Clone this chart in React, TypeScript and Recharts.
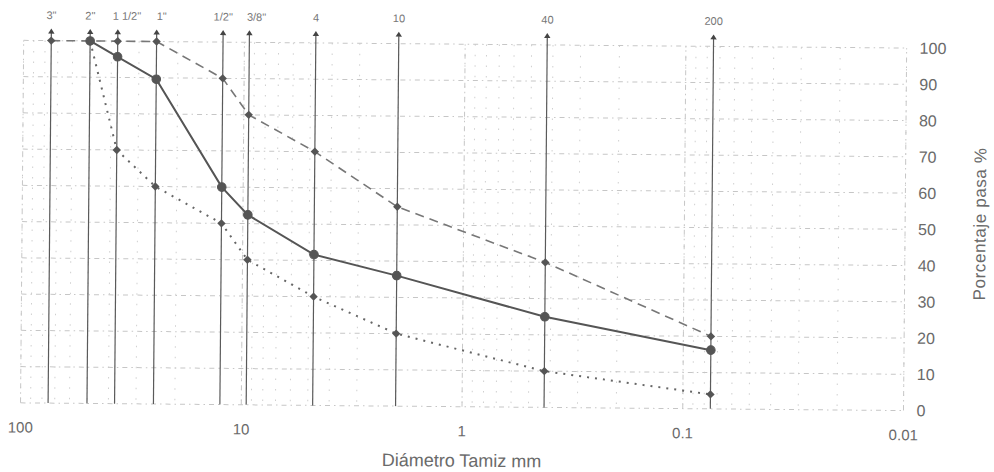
import React from 'react';
import { ComposedChart, Line, XAxis, YAxis, CartesianGrid, ReferenceLine } from 'recharts';

// ---- data ----
const sieveLabels = ['3"', '2"', '1 1/2"', '1"', '1/2"', '3/8"', '4', '10', '40', '200'];
const sieveSizesMm = [75, 50, 37.5, 25, 12.5, 9.5, 4.75, 2.0, 0.425, 0.075];
const muestra: (number | null)[] = [null, 100, 95.7, 89.6, 60, 52.4, 41.6, 36, 25, 16.2];
const limiteSuperior: (number | null)[] = [100, 100, 100, 100, 90, 80, 70, 55, 40, 20];
const limiteInferior: (number | null)[] = [null, 100, 70, 60, 50, 40, 30, 20, 10, 4];

const xDecadeTicks = [100, 10, 1, 0.1, 0.01];
const xDecadeLabels = ['100', '10', '1', '0.1', '0.01'];
const xGridTicks = [
  100, 90, 80, 70, 60, 50, 40, 30, 20,
  10, 9, 8, 7, 6, 5, 4, 3, 2,
  1, 0.9, 0.8, 0.7, 0.6, 0.5, 0.4, 0.3, 0.2,
  0.1, 0.09, 0.08, 0.07, 0.06, 0.05, 0.04, 0.03, 0.02,
  0.01,
];
const yTicks = [0, 10, 20, 30, 40, 50, 60, 70, 80, 90, 100];

// ---- styles ----
const W = 994;
const H = 472;
const FONT = '"Liberation Sans", Arial, sans-serif';
const TEXT = '#6a6a6a';
const INK = '#555';
const LABEL_DX: Record<string, number> = { '1 1/2"': 9, '1"': 5, '3/8"': 7 };

const toSeries = (vals: (number | null)[]) =>
  sieveSizesMm
    .map((x, i) => ({ x, y: vals[i] }))
    .filter((d) => d.y !== null && d.y !== undefined);

const serieMuestra = toSeries(muestra);
const serieSup = toSeries(limiteSuperior);
const serieInf = toSeries(limiteInferior);

const Diamond = (props: any) => {
  const { cx, cy, index } = props;
  if (cx == null || cy == null) return <g key={`d-${index}`} />;
  const s = 4.2;
  return (
    <path
      key={`d-${index}`}
      d={`M${cx},${cy - s}L${cx + s},${cy}L${cx},${cy + s}L${cx - s},${cy}Z`}
      fill={INK}
      stroke="none"
    />
  );
};

const sieveShape = (label: string) => (props: any) => {
  const { x1, y1, x2, y2 } = props;
  const x = (x1 + x2) / 2;
  const bottom = Math.max(y1, y2);
  const top = Math.min(y1, y2);
  const base = top - 7.5;
  const tip = top - 12;
  const dx = LABEL_DX[label] || 0;
  return (
    <g>
      <line x1={x} y1={bottom} x2={x} y2={base} stroke="#5a5a5a" strokeWidth={1.2} />
      <path d={`M${x},${tip}L${x + 3.2},${base + 0.5}L${x - 3.2},${base + 0.5}Z`} fill="#444" />
      <text
        x={x + dx}
        y={top - 21.5}
        textAnchor="middle"
        fontSize={11}
        fontFamily={FONT}
        fill="#777"
      >
        {label}
      </text>
    </g>
  );
};

const YTitle = (props: any) => {
  const vb = props && props.viewBox ? props.viewBox : { x: 905, y: 44.5, width: 89, height: 362.5 };
  const cx = vb.x + vb.width - 14;
  const cy = vb.y + vb.height / 2 - 6;
  return (
    <text
      x={cx}
      y={cy}
      transform={`rotate(-90 ${cx} ${cy})`}
      textAnchor="middle"
      dominantBaseline="central"
      fontSize={17}
      fontFamily={FONT}
      fill={TEXT}
      letterSpacing={0.6}
    >
      Porcentaje pasa %
    </text>
  );
};

export default function App() {
  return (
    <div style={{ position: 'absolute', left: 0, top: 0, width: W, height: H, overflow: 'hidden', background: '#fff' }}>
      <div style={{ width: W, height: H, transform: 'rotate(0.5deg)', transformOrigin: '50% 50%' }}>
        <ComposedChart width={W} height={H} margin={{ top: 44.5, right: 0, bottom: 5, left: 22 }}>
          <CartesianGrid
            horizontal={false}
            vertical={true}
            stroke="#cfcfcf"
            strokeDasharray="1.5 9"
          />
          <CartesianGrid
            horizontal={true}
            vertical={false}
            stroke="#c6c6c6"
            strokeDasharray="5 4 1.5 4"
          />
          <XAxis
            dataKey="x"
            type="number"
            scale="log"
            domain={[0.01, 100]}
            allowDataOverflow
            reversed
            ticks={xGridTicks}
            interval={0}
            height={60}
            axisLine={false}
            tickLine={false}
            tickSize={0}
            tickMargin={19}
            tick={{ fill: TEXT, fontSize: 15, fontFamily: FONT }}
            tickFormatter={(v: number) => {
              const i = xDecadeTicks.indexOf(v);
              return i >= 0 ? xDecadeLabels[i] : '';
            }}
            label={{
              value: 'Diámetro Tamiz mm',
              position: 'insideBottom',
              offset: 0,
              fill: TEXT,
              fontSize: 18,
              fontFamily: FONT,
            }}
          />
          <YAxis
            orientation="right"
            type="number"
            domain={[0, 100]}
            ticks={yTicks}
            interval={0}
            width={89}
            axisLine={false}
            tickLine={false}
            tickSize={0}
            tickMargin={13}
            tick={{ fill: TEXT, fontSize: 16, fontFamily: FONT }}
            label={{ content: (p: any) => <YTitle {...p} /> }}
          />
          {xDecadeTicks.map((v) => (
            <ReferenceLine key={`dec-${v}`} x={v} stroke="#c6c6c6" strokeDasharray="5 4 1.5 4" />
          ))}
          {sieveSizesMm.map((v, i) => (
            <ReferenceLine key={`sv-${i}`} x={v} shape={sieveShape(sieveLabels[i])} />
          ))}
          <Line
            data={serieInf}
            dataKey="y"
            stroke="#666"
            strokeWidth={2}
            strokeDasharray="2 6"
            dot={Diamond}
            activeDot={false}
            isAnimationActive={false}
          />
          <Line
            data={serieSup}
            dataKey="y"
            stroke="#777"
            strokeWidth={1.6}
            strokeDasharray="9 6"
            dot={Diamond}
            activeDot={false}
            isAnimationActive={false}
          />
          <Line
            data={serieMuestra}
            dataKey="y"
            stroke={INK}
            strokeWidth={2}
            dot={{ r: 4.3, fill: INK, stroke: INK, strokeWidth: 1 }}
            activeDot={false}
            isAnimationActive={false}
          />
        </ComposedChart>
      </div>
    </div>
  );
}
